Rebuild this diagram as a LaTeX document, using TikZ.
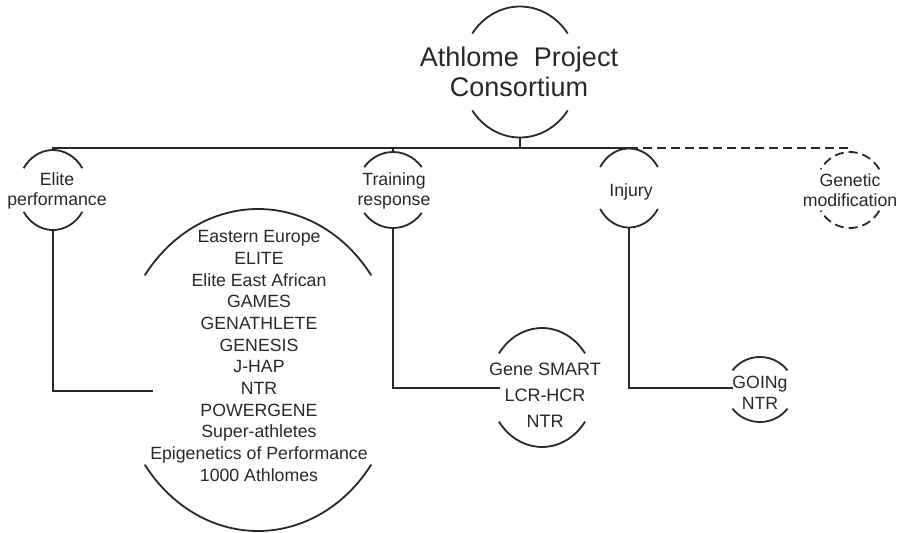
\documentclass[tikz,border=0pt]{standalone}
\usepackage{fontspec}
\setmainfont{Liberation Sans}
\usetikzlibrary{calc}
\definecolor{ink}{HTML}{282828}
\newcommand{\capsarcs}[5][]{%
  \draw[#1] (#2) ++(#5:#3pt and #4pt) arc[start angle=#5, end angle=180-#5, x radius=#3pt, y radius=#4pt];
  \draw[#1] (#2) ++(-#5:#3pt and #4pt) arc[start angle=-#5, end angle=-180+#5, x radius=#3pt, y radius=#4pt];}
\tikzset{
  lbl/.style={align=center, inner sep=0pt, text=ink, font=\fontsize{17.7}{19.5}\selectfont},
  listlbl/.style={lbl, font=\fontsize{17.7}{21.7}\selectfont},
  gslbl/.style={lbl, font=\fontsize{18}{26}\selectfont},
  golbl/.style={lbl, font=\fontsize{17.7}{21}\selectfont},
  titlelbl/.style={lbl, font=\fontsize{27}{30}\selectfont},
  link/.style={draw=ink, line width=1.8pt},
  dashlink/.style={link, dash pattern=on 9pt off 5pt},
}
\begin{document}
\begin{tikzpicture}[x=1pt,y=-1pt,line width=1.8pt,color=ink]
\useasboundingbox (0,0) rectangle (903,533);
% centres of the ring shapes
\coordinate (apc-c) at (520,72);
\coordinate (elite-c) at (53,190);
\coordinate (train-c) at (393,190);
\coordinate (inj-c) at (629,188);
\coordinate (gm-c) at (850,190);
\coordinate (big-c) at (258,370);
\coordinate (gs-c) at (542,387.5);
\coordinate (go-c) at (760,389.5);
\coordinate (bus) at (0,148);
% labels
\node[titlelbl] (apc) at (519,72) {Athlome\ \ Project\\Consortium};
\node[lbl] (elite) at (57,191) {Elite\\performance};
\node[lbl] (train) at (394,191) {Training\\response};
\node[lbl] (inj) at (631,192) {Injury};
\node[lbl] (gm) at (850,190) {Genetic\\modification};
\node[listlbl] (big) at (259,356) {Eastern Europe\\ELITE\\Elite East African\\GAMES\\GENATHLETE\\GENESIS\\J-HAP\\NTR\\POWERGENE\\Super-athletes\\Epigenetics of Performance\\1000 Athlomes};
\node[gslbl] (gs) at (545,395) {Gene SMART\\LCR-HCR\\NTR};
\node[golbl] (go) at (760,392.5) {GOINg\\NTR};
% ring arcs
\capsarcs[link]{apc-c}{59}{65.5}{36}
\capsarcs[link]{elite-c}{35}{40}{33}
\capsarcs[link]{train-c}{36}{38}{37}
\capsarcs[link]{inj-c}{34}{39.5}{32}
\capsarcs[dashlink]{gm-c}{35}{38}{33}
\capsarcs[link]{big-c}{140}{161}{36}
\capsarcs[link]{gs-c}{52.5}{59.5}{35}
\capsarcs[link]{go-c}{34}{32.5}{36}
% attachment points
\coordinate (apc-b) at ($(apc-c)+(0,65.5)$);
\coordinate (elite-t) at ($(elite-c)+(0,-40)$);
\coordinate (elite-b) at ($(elite-c)+(0,40)$);
\coordinate (train-t) at ($(train-c)+(0,-38)$);
\coordinate (train-b) at ($(train-c)+(0,38)$);
\coordinate (inj-t) at ($(inj-c)+(0,-39.5)$);
\coordinate (inj-b) at ($(inj-c)+(0,39.5)$);
\coordinate (gm-t) at ($(gm-c)+(0,-38)$);
\coordinate (big-in) at (153,391);
\coordinate (gs-in) at (500,388);
\coordinate (go-in) at (733,388);
% connectors
\draw[link] (apc-b) -- (apc-b |- bus);
\draw[link] (elite-t) -- (elite-t |- bus) -- (inj-t |- bus) -- (inj-t);
\draw[link] (train-t) -- (train-t |- bus);
\draw[dashlink] (inj-t |- bus) -- (gm-t |- bus) -- (gm-t);
\draw[link] (elite-b) |- (big-in);
\draw[link] (train-b) |- (gs-in);
\draw[link] (inj-b) |- (go-in);
\end{tikzpicture}
\end{document}
